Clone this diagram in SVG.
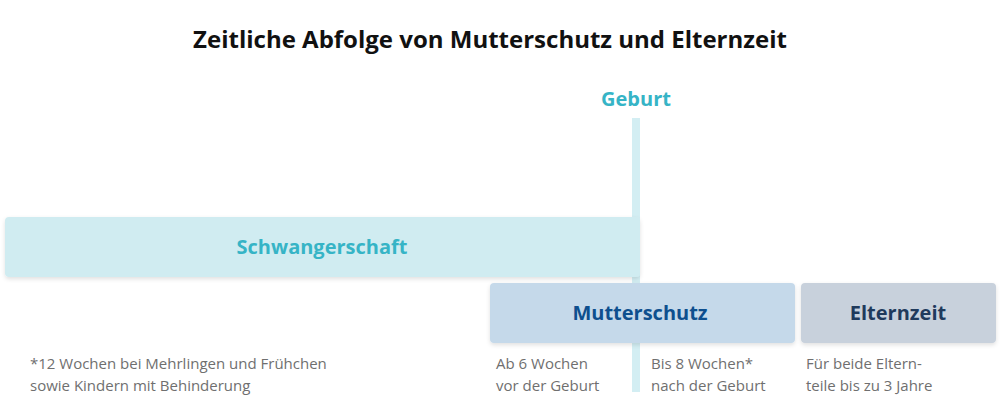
<svg xmlns="http://www.w3.org/2000/svg" width="1000" height="416" viewBox="0 0 1000 416">
<style>
text{font-family:"Open Sans","Liberation Sans",sans-serif}
.t{font-weight:bold}
.n{fill:#6f6f6f;font-size:15px}
</style>
<defs><filter id="s" x="-5%" y="-20%" width="110%" height="150%"><feDropShadow dx="0" dy="2" stdDeviation="2" flood-opacity="0.12"/></filter></defs>
<rect width="1000" height="416" fill="#fff"/>
<text class="t" x="490" y="48" font-size="24" text-anchor="middle" fill="#111">Zeitliche Abfolge von Mutterschutz und Elternzeit</text>
<g id="connectors"><rect x="632" y="118" width="8" height="274" fill="#d3eef3"/></g>
<g id="geburt"><text class="t" x="636" y="106" font-size="20" text-anchor="middle" fill="#36b4c6">Geburt</text></g>
<g id="schwangerschaft"><rect x="5" y="217" width="635" height="60" rx="4" fill="#d0ecf1" filter="url(#s)"/><text class="t" x="322" y="254" font-size="20" text-anchor="middle" fill="#36b4c6">Schwangerschaft</text></g>
<g id="mutterschutz"><rect x="490" y="283" width="305" height="60" rx="4" fill="#c5d9ea" filter="url(#s)"/><text class="t" x="640" y="320" font-size="20" text-anchor="middle" fill="#0e4f8e">Mutterschutz</text></g>
<g id="elternzeit"><rect x="801" y="283" width="195" height="60" rx="4" fill="#c8d1dc" filter="url(#s)"/><text class="t" x="898" y="320" font-size="20" text-anchor="middle" fill="#1f3a5c">Elternzeit</text></g>
<g id="notes">
<text class="n" x="30" y="369">*12 Wochen bei Mehrlingen und Frühchen</text>
<text class="n" x="30" y="391">sowie Kindern mit Behinderung</text>
<text class="n" x="496" y="369">Ab 6 Wochen</text>
<text class="n" x="496" y="391">vor der Geburt</text>
<text class="n" x="651" y="369">Bis 8 Wochen*</text>
<text class="n" x="651" y="391">nach der Geburt</text>
<text class="n" x="806" y="369">Für beide Eltern-</text>
<text class="n" x="806" y="391">teile bis zu 3 Jahre</text>
</g>
</svg>
